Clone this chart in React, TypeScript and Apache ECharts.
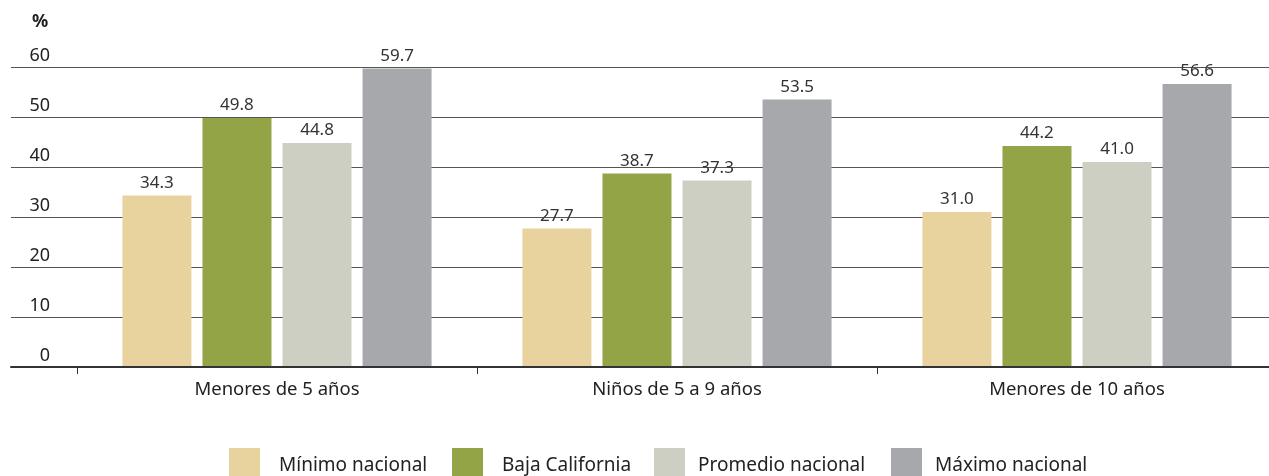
import React, { useEffect, useRef } from "react";
import * as echarts from "echarts";

const categories = ["Menores de 5 años", "Niños de 5 a 9 años", "Menores de 10 años"];
const seriesNames = ["Mínimo nacional", "Baja California", "Promedio nacional", "Máximo nacional"];
const minimoNacional = [34.3, 27.7, 31.0];
const bajaCalifornia = [49.8, 38.7, 44.2];
const promedioNacional = [44.8, 37.3, 41.0];
const maximoNacional = [59.7, 53.5, 56.6];
const seriesColors = ["#e8d39f", "#93a446", "#cccfc2", "#a7a8ac"];
const yTicks = [0, 10, 20, 30, 40, 50, 60];

const FONT = "Noto Sans";
const legendLeft = [229, 452, 654, 891];
const legendTextPad = [14, 14, 8, 8];

export default function App() {
  const ref = useRef<HTMLDivElement>(null);
  useEffect(() => {
    if (!ref.current) return;
    const chart = echarts.init(ref.current, undefined, { renderer: "svg" });
    const values = [minimoNacional, bajaCalifornia, promedioNacional, maximoNacional];
    chart.setOption({
      animation: false,
      textStyle: { fontFamily: FONT },
      grid: [
        { left: 11, width: 1258, top: 67, height: 300, containLabel: false },
        { left: 77, width: 1200, top: 67, height: 300, containLabel: false },
      ],
      xAxis: [
        {
          gridIndex: 0,
          type: "category",
          data: ["a"],
          axisLine: { show: true, lineStyle: { color: "#333", width: 2 } },
          axisTick: { show: false },
          axisLabel: { show: false },
          splitLine: { show: false },
          z: 5,
        },
        {
          gridIndex: 1,
          type: "category",
          data: categories,
          axisLine: { show: false },
          axisTick: { show: true, length: 7, lineStyle: { color: "#333", width: 1 } },
          axisLabel: { color: "#222", fontSize: 18.5, margin: 11, fontFamily: FONT },
        },
      ],
      yAxis: [
        {
          gridIndex: 0,
          type: "value",
          min: 0,
          max: 60,
          interval: 10,
          axisLine: { show: false },
          axisTick: { show: false },
          splitLine: { show: true, lineStyle: { color: "#555", width: 1 } },
          axisLabel: {
            color: "#222",
            fontSize: 18,
            align: "right",
            margin: -39,
            verticalAlign: "bottom",
            padding: [0, 0, 4, 0],
            fontFamily: FONT,
            formatter: (v: number) => (yTicks.includes(v) ? String(v) : ""),
          },
        },
        {
          gridIndex: 1,
          type: "value",
          min: 0,
          max: 60,
          interval: 10,
          show: false,
          splitLine: { show: false },
        },
      ],
      legend: seriesNames.map((name, i) => ({
        left: legendLeft[i],
        top: 448,
        padding: 0,
        itemWidth: 31,
        itemHeight: 31,
        icon: "rect",
        textStyle: {
          fontSize: 19,
          color: "#222",
          fontFamily: FONT,
          padding: [4, 0, 0, legendTextPad[i]],
        },
        data: [name],
      })),
      graphic: [
        {
          type: "text",
          left: 32,
          top: 11,
          style: { text: "%", fontSize: 18, fontWeight: "bold", fill: "#222", fontFamily: FONT },
        },
      ],
      series: seriesNames.map((name, i) => ({
        name,
        type: "bar",
        xAxisIndex: 1,
        yAxisIndex: 1,
        data: values[i],
        barWidth: 69,
        barGap: "16%",
        itemStyle: { color: seriesColors[i] },
        label: {
          show: true,
          position: "top",
          distance: 6,
          color: "#333",
          fontSize: 17,
          fontFamily: FONT,
          formatter: (p: any) => Number(p.value).toFixed(1),
        },
      })),
    });
    return () => chart.dispose();
  }, []);
  return (
    <div
      ref={ref}
      style={{ position: "fixed", left: 0, top: 0, width: 1290, height: 476 }}
    />
  );
}
